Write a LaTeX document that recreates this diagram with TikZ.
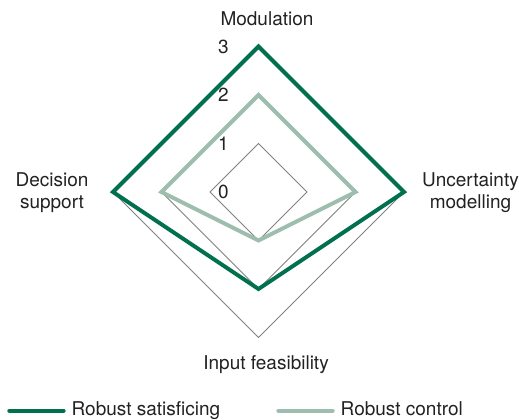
\documentclass[tikz,border=0pt]{standalone}
\usepackage{fontspec}
\setmainfont{TeX Gyre Heros}
\usetikzlibrary{calc}
\usetikzlibrary{positioning}
\definecolor{satgreen}{HTML}{00704F}
\definecolor{ctrlgreen}{HTML}{9DBDAE}
\definecolor{gridgrey}{HTML}{808080}
\definecolor{textgrey}{HTML}{222222}
\begin{document}
\begin{tikzpicture}
    [%
        x=1pt,y=1pt,%
        every node/.style={%
            font=\fontsize{19}{22}\selectfont,%
            text=textgrey,%
            inner sep=0pt%
        },%
        grid line/.style={%
            draw=gridgrey,%
            line width=0.9pt,%
            line join=miter%
        },%
        satisficing/.style={%
            draw=satgreen,%
            line width=4pt,%
            line join=miter%
        },%
        control/.style={%
            draw=ctrlgreen,%
            line width=4pt,%
            line join=miter%
        },%
        axis label/.style={%
            align=center%
        },%
        level label/.style={%
            anchor=east%
        },%
        legend line/.style={%
            line width=4pt,%
            line cap=round%
        }%
    ]%
    \useasboundingbox (0,0) rectangle (519,420);
%
    % axis points for every level
    \coordinate (centre) at (258.5,228);
    \foreach \ax/\ang in {mod/90,unc/0,inp/270,dec/180}
        \foreach \lv in {0,1,2,3}
            \coordinate (\ax-\lv) at ($(centre)+(\ang:\lv*48.5)$);
%
    % grid
    \foreach \lv in {1,2,3}
        \draw[grid line] (mod-\lv) -- (unc-\lv) -- (inp-\lv) -- (dec-\lv) -- cycle;
    \foreach \lv in {0,1,2,3}
        \node[level label] (lab-\lv) at ($(mod-\lv)+(-29.5,0)$) {\lv};
%
    % series
    \draw[control] (mod-2) -- (unc-2) -- (inp-1) -- (dec-2) -- cycle;
    \draw[satisficing] (mod-3) -- (unc-3) -- (inp-2) -- (dec-3) -- cycle;
%
    % axis labels
    \node[axis label,anchor=base] (modulation) at (267,394.3) {Modulation};
    \node[axis label] (uncertainty) at (470.5,227.5) {Uncertainty\\modelling};
    \node[axis label,anchor=base] (feasibility) at (266,50) {Input feasibility};
    \node[axis label] (decision) at (52,227.5) {Decision\\support};
%
    % legend
    \coordinate (sat-a) at (9.3,9.3);
    \coordinate (sat-b) at (63.7,9.3);
    \draw[legend line,satgreen] (sat-a) -- (sat-b);
    \node[anchor=base west] (sat-text) at (71.5,5) {Robust satisficing};
    \coordinate (ctrl-a) at (278.3,9.3);
    \coordinate (ctrl-b) at (332.7,9.3);
    \draw[legend line,ctrlgreen] (ctrl-a) -- (ctrl-b);
    \node[anchor=base west] (ctrl-text) at (340.5,5) {Robust control};
\end{tikzpicture}
\end{document}
